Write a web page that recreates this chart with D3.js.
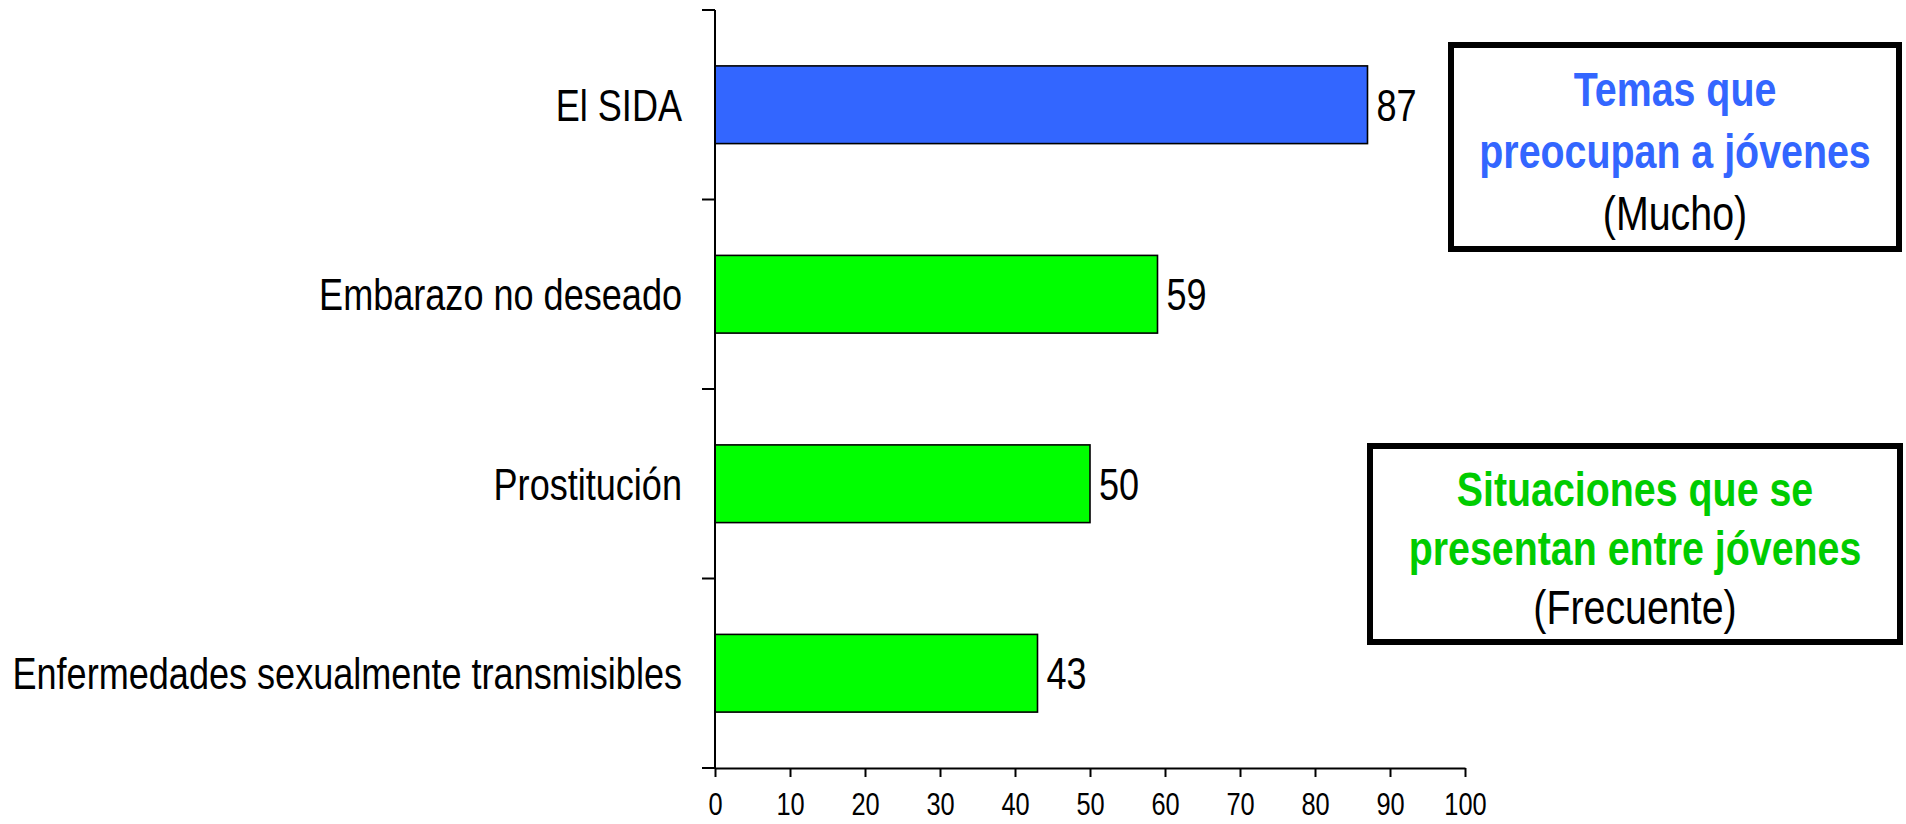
<!DOCTYPE html>
<html>
<head>
<meta charset="utf-8">
<script src="https://cdn.jsdelivr.net/npm/d3@7"></script>
<style>
  html, body { margin: 0; padding: 0; background: #fff; }
  svg { display: block; }
  text { font-family: "Liberation Sans Narrow", "Arial Narrow", "Liberation Sans", Arial, sans-serif; }
</style>
</head>
<body>
<svg id="chart" width="1906" height="824"></svg>
<script>
const categories = ["El SIDA", "Embarazo no deseado", "Prostitución", "Enfermedades sexualmente transmisibles"];
const values = [87, 59, 50, 43];
const groups = ["tema", "situacion", "situacion", "situacion"];
const xTicks = [0, 10, 20, 30, 40, 50, 60, 70, 80, 90, 100];
const boxTitles = [
  ["Temas que", "preocupan a jóvenes"],
  ["Situaciones que se", "presentan entre jóvenes"]
];
const boxSubtitles = ["(Mucho)", "(Frecuente)"];

const colors = { tema: "#3366FF", situacion: "#00FF00" };
const titleColors = ["#3366FF", "#00CC00"];

// horizontal condensation to imitate a narrow typeface
const SX = 0.82;

const svg = d3.select("#chart");
const plotLeft = 715, plotRight = 1465, plotTop = 10, plotBottom = 768;

const x = d3.scaleLinear().domain([0, 100]).range([plotLeft, plotRight]);
const y = d3.scaleBand().domain(categories).range([plotTop, plotBottom]).paddingInner(0.59).paddingOuter(0.295);

// Bars
svg.selectAll("rect.bar").data(categories).enter().append("rect")
  .attr("class", "bar")
  .attr("x", x(0))
  .attr("y", d => y(d))
  .attr("width", (d, i) => x(values[i]) - x(0))
  .attr("height", y.bandwidth())
  .attr("fill", (d, i) => colors[groups[i]])
  .attr("stroke", "#000")
  .attr("stroke-width", 1.6);

// Value labels
svg.selectAll("text.val").data(categories).enter().append("text")
  .attr("class", "val")
  .attr("transform", (d, i) => `translate(${x(values[i]) + 9},${y(d) + y.bandwidth() / 2}) scale(${SX},1)`)
  .attr("dy", "0.36em")
  .attr("font-size", 44)
  .attr("fill", "#000")
  .text((d, i) => values[i]);

// Category labels
svg.selectAll("text.cat").data(categories).enter().append("text")
  .attr("class", "cat")
  .attr("transform", d => `translate(${plotLeft - 33},${y(d) + y.bandwidth() / 2}) scale(${SX},1)`)
  .attr("dy", "0.36em")
  .attr("text-anchor", "end")
  .attr("font-size", 44)
  .attr("fill", "#000")
  .text(d => d);

// Y axis line and separator ticks
svg.append("line").attr("x1", plotLeft).attr("x2", plotLeft).attr("y1", plotTop).attr("y2", plotBottom)
  .attr("stroke", "#000").attr("stroke-width", 2);
const step = y.step();
const seps = d3.range(categories.length + 1).map(i => plotTop + i * step);
svg.selectAll("line.sep").data(seps).enter().append("line")
  .attr("class", "sep")
  .attr("x1", plotLeft - 13).attr("x2", plotLeft)
  .attr("y1", d => d).attr("y2", d => d)
  .attr("stroke", "#000").attr("stroke-width", 2);

// X axis
const xAxis = d3.axisBottom(x).tickValues(xTicks).tickSize(9).tickSizeOuter(0).tickPadding(16);
const gx = svg.append("g").attr("transform", `translate(0,${plotBottom})`).call(xAxis);
gx.select(".domain").attr("stroke", "#000").attr("stroke-width", 2);
gx.selectAll(".tick line").attr("stroke", "#000").attr("stroke-width", 2);
gx.selectAll(".tick text")
  .attr("font-family", "'Liberation Sans Narrow', 'Arial Narrow', 'Liberation Sans', Arial, sans-serif")
  .attr("font-size", 31).attr("fill", "#000")
  .attr("transform", `scale(${SX},1)`);

// Text boxes
const boxes = [
  { x: 1448, y: 42, w: 454, h: 210, lines: [106, 168, 230] },
  { x: 1367, y: 443, w: 536, h: 202, lines: [506, 565, 624] }
];
boxes.forEach((b, i) => {
  svg.append("rect")
    .attr("x", b.x + 3).attr("y", b.y + 3)
    .attr("width", b.w - 6).attr("height", b.h - 6)
    .attr("fill", "#fff").attr("stroke", "#000").attr("stroke-width", 6);
  const cx = b.x + b.w / 2;
  boxTitles[i].forEach((t, j) => {
    svg.append("text")
      .attr("transform", `translate(${cx},${b.lines[j]}) scale(${SX},1)`)
      .attr("text-anchor", "middle")
      .attr("font-size", 48).attr("font-weight", "bold")
      .attr("fill", titleColors[i])
      .text(t);
  });
  svg.append("text")
    .attr("transform", `translate(${cx},${b.lines[2]}) scale(${SX},1)`)
    .attr("text-anchor", "middle")
    .attr("font-size", 48)
    .attr("fill", "#000")
    .text(boxSubtitles[i]);
});
</script>
</body>
</html>
